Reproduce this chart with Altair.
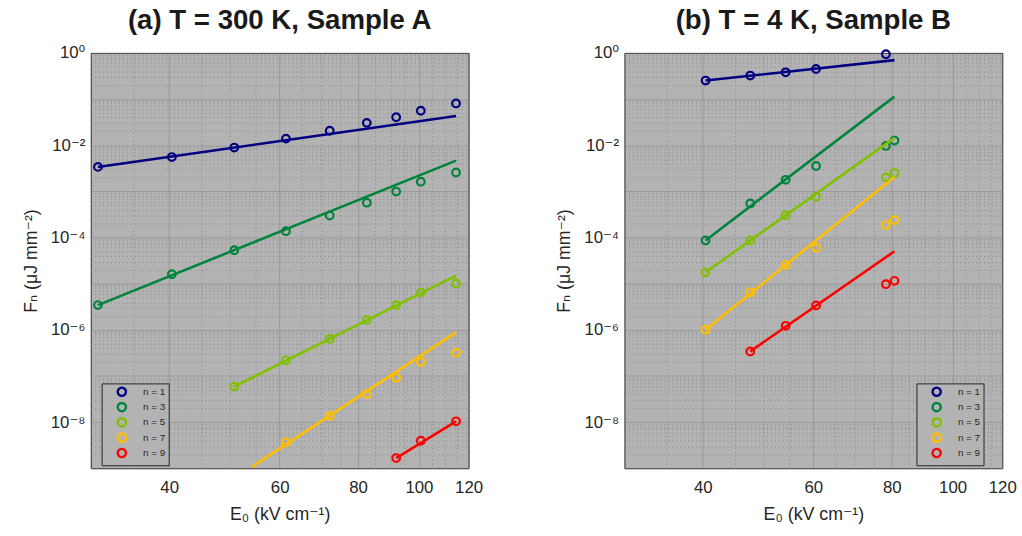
import altair as alt
import pandas as pd

SERIES = ["n = 1", "n = 3", "n = 5", "n = 7", "n = 9"]
COLORS = ["#000080", "#00843d", "#80c000", "#ffbf00", "#ff0000"]

# ---------------- Panel (a): T = 300 K, Sample A ----------------
E_a = [30.8, 40.4, 50.8, 61.4, 72.1, 82.6, 92.0, 100.7, 114.6]
Fa_n1 = [3.39e-3, 5.54e-3, 8.9e-3, 1.39e-2, 2.06e-2, 3.05e-2, 4.04e-2, 5.58e-2, 8.03e-2]
Fa_n3 = [3.43e-6, 1.6e-5, 5.3e-5, 1.37e-4, 3.0e-4, 5.69e-4, 9.9e-4, 1.62e-3, 2.57e-3]
Fa_n5 = [5.87e-8, 2.18e-7, 6.34e-7, 1.64e-6, 3.43e-6, 6.4e-6, 1.01e-5]   # E_a[2:]
Fa_n7 = [3.64e-9, 1.35e-8, 4.05e-8, 9.1e-8, 2.01e-7, 3.19e-7]            # E_a[3:]
Fa_n9 = [1.66e-9, 3.94e-9, 1.04e-8]                                       # E_a[6:]
a_start = [0, 0, 2, 3, 6]

# fitted power-law lines (end points)
fitA_E0 = [30.8, 30.8, 50.8, 54.1, 92.0]
fitA_E1 = [114.6, 114.6, 114.6, 114.6, 114.6]
fitA_F0 = [3.39e-3, 3.43e-6, 5.87e-8, 1.06e-9, 1.66e-9]
fitA_F1 = [4.30e-2, 4.64e-3, 1.5e-5, 8.77e-7, 1.04e-8]

# ---------------- Panel (b): T = 4 K, Sample B ----------------
E_b = [40.4, 47.6, 54.2, 60.6, 78.3, 80.8]
Fb_n1 = [0.252, 0.323, 0.380, 0.449, 0.938]                              # E_b[:5]
Fb_n3 = [8.65e-5, 5.48e-4, 1.78e-3, 3.55e-3, 9.66e-3, 1.26e-2]
Fb_n5 = [1.76e-5, 8.65e-5, 3.05e-4, 7.63e-4, 2.01e-3, 2.49e-3]
Fb_n7 = [1.0e-6, 6.49e-6, 2.53e-5, 6.01e-5, 1.86e-4, 2.38e-4]
Fb_n9 = [3.4e-7, 1.22e-6, 3.37e-6, 9.75e-6, 1.15e-5]                     # E_b[1:]
b_start = [0, 0, 0, 0, 1]

fitB_E0 = [40.4, 40.4, 40.4, 40.4, 47.6]
fitB_E1 = [80.8, 80.8, 80.8, 80.8, 80.8]
fitB_F0 = [0.252, 8.65e-5, 1.76e-5, 1.0e-6, 3.4e-7]
fitB_F1 = [0.698, 0.113, 1.44e-2, 2.04e-3, 5.04e-5]

X_TICKS = [30, 35, 40, 45, 50, 55, 60, 65, 70, 75, 80, 85, 90, 95, 100, 105, 110, 115, 120]
X_MAJOR = [40, 60, 80, 100, 120]
Y_EXP = list(range(-9, 1))
Y_LABEL_EXP = [0, -2, -4, -6, -8]

SUP = {"-": "\u207b", "0": "\u2070", "1": "\u00b9", "2": "\u00b2", "3": "\u00b3",
       "4": "\u2074", "5": "\u2075", "6": "\u2076", "7": "\u2077", "8": "\u2078", "9": "\u2079"}


def sup(s):
    return "".join(SUP[c] for c in str(s))


y_ticks = []
for e in Y_EXP:
    for m in range(1, 10):
        v = m * 10.0 ** e
        if v <= 1.0000001:
            y_ticks.append(v)

lg = "(log(datum.value)/LN10)"
y_label_expr = ""
for e in Y_LABEL_EXP:
    y_label_expr += f"abs({lg} - ({e})) < 0.001 ? '10{sup(e)}' : "
y_label_expr += "''"

x_major_js = "[" + ",".join(str(v) for v in X_MAJOR) + "]"
x_label_expr = f"indexof({x_major_js}, datum.value) >= 0 ? toString(datum.value) : ''"

FONT = "Liberation Sans, DejaVu Sans, sans-serif"
GRID_COLOR = "#7a7a7a"


def frames(E, series_lists, starts, fE0, fE1, fF0, fF1):
    pts, fits = [], []
    for name, vals, s in zip(SERIES, series_lists, starts):
        for e, f in zip(E[s:s + len(vals)], vals):
            pts.append({"E": e, "F": f, "n": name})
    for name, e0, e1, f0, f1 in zip(SERIES, fE0, fE1, fF0, fF1):
        fits.append({"E": e0, "F": f0, "n": name})
        fits.append({"E": e1, "F": f1, "n": name})
    return pd.DataFrame(pts), pd.DataFrame(fits)


def panel(title, pts, fits, legend_x):
    xscale = alt.Scale(type="log", domain=[30, 120], nice=False)
    yscale = alt.Scale(type="log", domain=[1e-9, 1], nice=False)
    xaxis = alt.Axis(
        values=X_TICKS, labelExpr=x_label_expr, labelOverlap=False, labelFlush=False,
        labelBound=False, ticks=False,
        domain=False, grid=True, gridColor=GRID_COLOR,
        gridDash={"condition": {"test": f"indexof({x_major_js}, datum.value) >= 0", "value": []},
                  "value": [1, 3]},
        gridOpacity={"condition": {"test": f"indexof({x_major_js}, datum.value) >= 0", "value": 0.45},
                     "value": 0.8},
        title="E\u2080 (kV cm\u207b\u00b9)", labelPadding=12, titlePadding=10,
    )
    yaxis = alt.Axis(
        values=y_ticks, labelExpr=y_label_expr, labelOverlap=False, labelFlush=False,
        ticks=False,
        domain=False, grid=True, gridColor=GRID_COLOR,
        gridDash={"condition": {"test": f"abs({lg} - round({lg})) < 0.001", "value": []},
                  "value": [1, 3]},
        gridOpacity={"condition": {"test": f"abs({lg} - round({lg})) < 0.001", "value": 0.45},
                     "value": 0.8},
        title="F\u2099 (\u03bcJ mm\u207b\u00b2)", labelPadding=6, titlePadding=10,
    )
    color = alt.Color(
        "n:N",
        scale=alt.Scale(domain=SERIES, range=COLORS),
        legend=alt.Legend(
            title=None, orient="none", legendX=legend_x, legendY=335,
            fillColor="#b3b3b3", strokeColor="#262626", padding=3,
            symbolType="circle", symbolSize=70, symbolStrokeWidth=2.4, symbolOpacity=1,
            symbolOffset=12, labelOffset=16, labelFontSize=10, labelFont=FONT,
            labelColor="#262626", rowPadding=-3.5, symbolFillColor="transparent",
        ),
    )
    points = alt.Chart(pts).mark_point(shape="circle", filled=False, size=60, strokeWidth=2.2,
                                       opacity=1).encode(
        x=alt.X("E:Q", scale=xscale, axis=xaxis),
        y=alt.Y("F:Q", scale=yscale, axis=yaxis),
        color=color,
    )
    lines = alt.Chart(fits).mark_line(strokeWidth=2.6, clip=True).encode(
        x=alt.X("E:Q", scale=xscale),
        y=alt.Y("F:Q", scale=yscale),
        color=alt.Color("n:N", scale=alt.Scale(domain=SERIES, range=COLORS), legend=None),
        detail="n:N",
    )
    return alt.layer(points, lines).properties(
        width=383, height=421,
        title=alt.TitleParams(title, fontSize=28, fontWeight="bold", font=FONT,
                              anchor="middle", offset=9, color="#1a1a1a"),
    )


pa, fa = frames(E_a, [Fa_n1, Fa_n3, Fa_n5, Fa_n7, Fa_n9], a_start, fitA_E0, fitA_E1, fitA_F0, fitA_F1)
pb, fb = frames(E_b, [Fb_n1, Fb_n3, Fb_n5, Fb_n7, Fb_n9], b_start, fitB_E0, fitB_E1, fitB_F0, fitB_F1)

chart = alt.hconcat(
    panel("(a) T = 300 K, Sample A", pa, fa, 11),
    panel("(b) T = 4 K, Sample B", pb, fb, 296),
    spacing=73,
).resolve_legend(color="independent").configure_view(
    fill="#b3b3b3", stroke="#262626", strokeWidth=1
).configure_axis(
    labelFont=FONT, titleFont=FONT, labelFontSize=17, titleFontSize=18,
    labelColor="#262626", titleColor="#262626", titleFontWeight="normal",
).properties(
    background="white", padding={"left": 22, "top": 3, "right": 5, "bottom": 5}
)

chart.save("out.html", embed_options={"renderer": "svg", "actions": False})
